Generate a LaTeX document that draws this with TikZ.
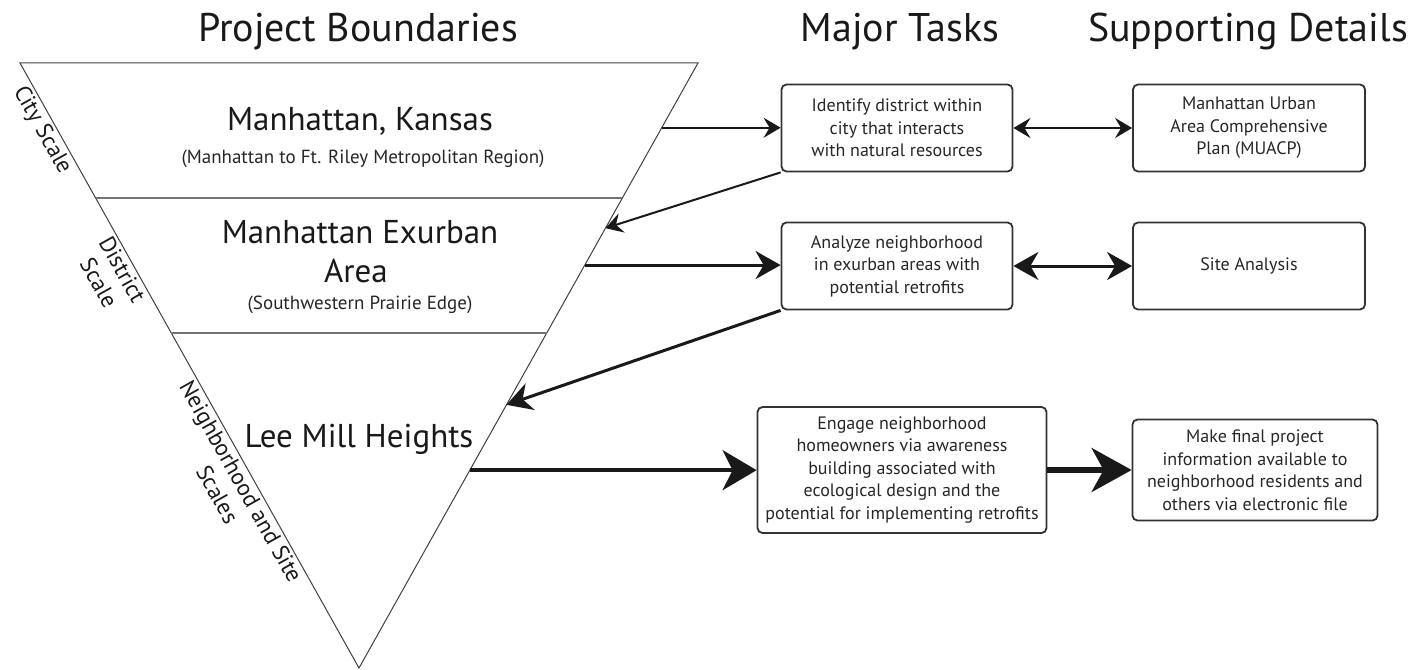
\documentclass[tikz,border=0pt]{standalone}
\usepackage{fontspec}
\setmainfont{PT Sans}
\usetikzlibrary{arrows.meta,calc,positioning}

\begin{document}
\begin{tikzpicture}[x=1pt, y=-1pt,
  titulo/.style={font=\fontsize{40}{44}\selectfont, text=black!90, anchor=base},
  grande/.style={font=\fontsize{33}{40}\selectfont, text=black!90, anchor=base},
  sub/.style={font=\fontsize{19}{22}\selectfont, text=black!85, anchor=base},
  lado/.style={font=\fontsize{23}{27}\selectfont, text=black!90, align=center,
    sloped, below=3pt, inner sep=0pt},
  caixa/.style={draw=black!80, line width=1.8pt, rounded corners=5pt, align=center,
    font=\fontsize{18}{22.5}\selectfont, text=black!85, inner sep=0pt},
  seta/.style={-{Stealth[length=17pt, width=20pt, inset=6pt]}, line width=2pt, black!90},
  setam/.style={-{Stealth[length=25pt, width=28pt, inset=8pt]}, line width=3pt, black!90},
  setag/.style={-{Stealth[length=34pt, width=40pt, inset=10pt]}, line width=4pt, black!90},
  setaxg/.style={-{Stealth[length=40pt, width=44pt, inset=12pt]}, line width=5.5pt, black!90},
  dupla/.style={{Stealth[length=17pt, width=20pt, inset=6pt]}-{Stealth[length=17pt, width=20pt, inset=6pt]},
    line width=2pt, black!90},
  duplam/.style={{Stealth[length=25pt, width=28pt, inset=8pt]}-{Stealth[length=25pt, width=28pt, inset=8pt]},
    line width=3pt, black!90}]
  \useasboundingbox (0,0) rectangle (1426,669);

  % Triangulo
  \coordinate (te) at (20,63);
  \coordinate (td) at (698,63);
  \coordinate (tb) at (359,668);
  \draw[black!75, line width=1pt] (te) -- (td) -- (tb) -- cycle;
  % Divisorias
  \foreach \t/\nome in {0.223/d1, 0.446/d2}
    \draw[black!55, line width=1.6pt] ($(te)!\t!(tb)$) coordinate (\nome e) -- ($(td)!\t!(tb)$) coordinate (\nome d);
  % Pontos na borda direita
  \foreach \t/\nome in {0.107/s1, 0.273/c1, 0.334/s2, 0.565/c2, 0.673/s3}
    \coordinate (\nome) at ($(td)!\t!(tb)$);

  % Titulos
  \node[titulo] (tProjeto) at (358,42) {Project Boundaries};
  \node[titulo] (tTarefas) at (900,42) {Major Tasks};
  \node[titulo] (tDetalhes) at (1248,42) {Supporting Details};

  % Textos do triangulo
  \node[grande] (cidade) at (360,130) {Manhattan, Kansas};
  \node[sub] (cidadeSub) at (363,163) {(Manhattan to Ft. Riley Metropolitan Region)};
  \node[grande] (distrito) at (360,243) {Manhattan Exurban};
  \node[grande] (distritoB) at (356,282) {Area};
  \node[sub] (distritoSub) at (360,309) {(Southwestern Prairie Edge)};
  \node[grande] (bairro) at (359,447) {Lee Mill Heights};

  % Escalas
  \path (te) -- (tb)
    node[lado, pos=0.100] (eCidade) {City Scale}
    node[lado, pos=0.332] (eDistrito) {District\\Scale}
    node[lado, pos=0.682] (eBairro) {Neighborhood and Site\\Scales};

  % Tarefas
  \node[caixa, minimum width=231pt, minimum height=87pt] (tarefa1) at (897,128)
    {Identify district within\\city that interacts\\with natural resources};
  \node[caixa, minimum width=231pt, minimum height=87pt] (tarefa2) at (897,266)
    {Analyze neighborhood\\in exurban areas with\\potential retrofits};
  \node[caixa, minimum width=289pt, minimum height=126pt] (tarefa3) at (902,470)
    {Engage neighborhood\\homeowners via awareness\\building associated with\\ecological design and the\\potential for implementing retrofits};

  % Detalhes
  \node[caixa, minimum width=232pt, minimum height=87pt] (detalhe1) at (1249,128)
    {Manhattan Urban\\Area Comprehensive\\Plan (MUACP)};
  \node[caixa, minimum width=232pt, minimum height=87pt] (detalhe2) at (1249,266)
    {Site Analysis};
  \node[caixa, minimum width=245pt, minimum height=101pt] (detalhe3) at (1255,470)
    {Make final project\\information available to\\neighborhood residents and\\others via electronic file};

  % Setas
  \draw[seta] (s1) -- (s1 -| tarefa1.west);
  \draw[seta] (tarefa1.south west) -- (c1);
  \draw[setam] (s2) -- (s2 -| tarefa2.west);
  \draw[setam] (tarefa2.south west) -- (c2);
  \draw[setag] (s3) -- (s3 -| tarefa3.west);
  \draw[setaxg] (tarefa3.east) -- (detalhe3.west);
  \draw[dupla] (tarefa1.east) -- (detalhe1.west);
  \draw[duplam] (tarefa2.east) -- (detalhe2.west);
\end{tikzpicture}
\end{document}
